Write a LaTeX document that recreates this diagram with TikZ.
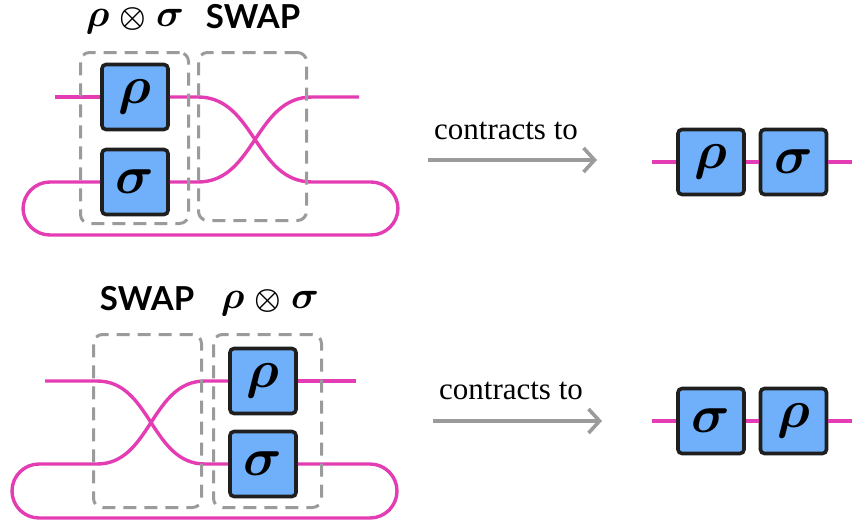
\documentclass[tikz,border=0pt]{standalone}
\usepackage{amsmath,amssymb,bm}
\usepackage{fontspec}
\newfontfamily\labelfont{Lato}
\newfontfamily\notefont{Liberation Serif}
\usetikzlibrary{arrows.meta}
\definecolor{wirepink}{RGB}{228,61,180}
\definecolor{gateblue}{RGB}{112,176,250}
\definecolor{framegray}{RGB}{155,155,155}
\newcommand{\gatesym}[1]{\scalebox{2.15}{$\bm{#1}$}}
\newcommand{\prodsym}{\scalebox{1.55}{$\bm{\rho}$}\hspace{10pt}\scalebox{1.2}{$\bm{\otimes}$}\hspace{10pt}\scalebox{1.55}{$\bm{\sigma}$}}

\begin{document}
\begin{tikzpicture}[x=1pt,y=-1pt,
  gate/.style={draw=black!88,fill=gateblue,line width=3.6pt,rounded corners=4pt,
    minimum width=66pt,minimum height=65pt,inner sep=0pt,font=\Huge},
  wire/.style={draw=wirepink,line width=3.4pt},
  group/.style={draw=framegray,line width=3pt,dash pattern=on 13pt off 8pt,
    rounded corners=9pt,minimum width=108pt,inner sep=0pt},
  title/.style={font=\Huge,anchor=base,inner sep=0pt},
  swaptitle/.style={font=\labelfont\bfseries\fontsize{33}{35}\selectfont,anchor=base,inner sep=0pt},
  note/.style={font=\notefont\fontsize{31}{33}\selectfont,anchor=base,inner sep=0pt},
  contract/.style={draw=framegray,line width=3.6pt,-{Straight Barb[length=11pt,width=24pt]}}]
  \useasboundingbox (0,0) rectangle (852,525);

  % rho (x) sigma, then swap, closed by a loop
  \node[gate] (r1) at (135,97) {\gatesym\rho};
  \node[gate] (s1) at (135,182) {\gatesym\sigma};
  \coordinate (a1) at (55,97);
  \coordinate (b1) at (359,97);
  \draw[wire] (a1) -- (r1.west);
  \draw[wire] (r1.east) -- (198,97) .. controls (255,97) and (255,182) .. (312,182)
    [rounded corners=27pt] -- (398,182) -- (398,235) -- (23,235) -- (23,182) -- (s1.west);
  \draw[wire] (s1.east) -- (198,182) .. controls (255,182) and (255,97) .. (312,97) -- (b1);
  \node[group,minimum height=171pt] (t1) at (134.5,138) {};
  \node[group,minimum height=168pt] (w1) at (252.5,136.5) {};
  \node[title] (l1) at (135,26) {\prodsym};
  \node[swaptitle] (m1) at (253,28) {SWAP};

  \coordinate (p1) at (428,160);
  \coordinate (q1) at (597,160);
  \draw[contract] (p1) -- (q1);
  \node[note] (c1) at (506,139) {contracts to};

  \node[gate] (r2) at (711,162) {\gatesym\rho};
  \node[gate] (s2) at (793.5,162) {\gatesym\sigma};
  \coordinate (a2) at (652,162);
  \coordinate (b2) at (852,162);
  \draw[wire] (a2) -- (r2);
  \draw[wire] (r2) -- (s2);
  \draw[wire] (s2) -- (b2);

  % swap first, then rho (x) sigma
  \node[gate] (r3) at (263,381) {\gatesym\rho};
  \node[gate] (s3) at (263,464) {\gatesym\sigma};
  \coordinate (a3) at (45,381);
  \coordinate (b3) at (356,381);
  \draw[wire] (a3) -- (97,381) .. controls (151,381) and (151,464) .. (205,464) -- (s3.west);
  \draw[wire] (r3.west) -- (205,381) .. controls (151,381) and (151,464) .. (97,464)
    [rounded corners=27pt] -- (12,464) -- (12,518) -- (397,518) -- (397,464) -- (s3.east);
  \draw[wire] (r3.east) -- (b3);
  \node[group,minimum height=173pt] (w3) at (147.5,421) {};
  \node[group,minimum height=173pt] (t3) at (267.5,421) {};
  \node[swaptitle] (m3) at (147,310) {SWAP};
  \node[title] (l3) at (270,308) {\prodsym};

  \coordinate (p3) at (433,421);
  \coordinate (q3) at (602,421);
  \draw[contract] (p3) -- (q3);
  \node[note] (c3) at (511,399) {contracts to};

  \node[gate] (s4) at (711,421) {\gatesym\sigma};
  \node[gate] (r4) at (793.5,421) {\gatesym\rho};
  \coordinate (a4) at (652,421);
  \coordinate (b4) at (852,421);
  \draw[wire] (a4) -- (s4);
  \draw[wire] (s4) -- (r4);
  \draw[wire] (r4) -- (b4);
\end{tikzpicture}
\end{document}
